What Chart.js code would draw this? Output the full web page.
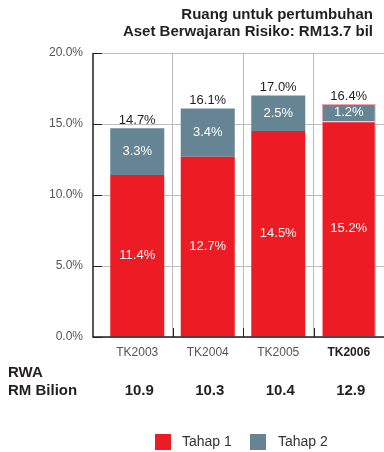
<!DOCTYPE html>
<html lang="ms">
<head>
<meta charset="UTF-8">
<title>Ruang untuk pertumbuhan</title>
<script src="https://cdn.jsdelivr.net/npm/chart.js"></script>
<style>
  body { margin: 0; background: #fff; }
  #wrap { width: 384px; height: 452px; }
</style>
</head>
<body>
<div id="wrap"><canvas id="modal"></canvas></div>
<script>
const categories = ['TK2003', 'TK2004', 'TK2005', 'TK2006'];
const tahap1 = [11.4, 12.7, 14.5, 15.2];
const tahap2 = [3.3, 3.4, 2.5, 1.2];
const rwa = ['10.9', '10.3', '10.4', '12.9'];
const yTicks = [0, 5, 10, 15, 20];
const titleLines = ['Ruang untuk pertumbuhan', 'Aset Berwajaran Risiko: RM13.7 bil'];

const RED = '#ed1c24';
const SLATE = '#668594';
const INK = '#231f20';
const FONT = "'Liberation Sans', Arial, sans-serif";
const LAST = categories.length - 1;

Chart.defaults.font.family = FONT;

// extra drawing: frame, labels, RWA row, title and legend
const extras = {
  id: 'extras',
  afterDatasetsDraw(chart) {
    const { ctx, chartArea: a, scales: { x } } = chart;
    ctx.save();

    // frame: left axis sits a tick-length away from the plot
    ctx.strokeStyle = INK;
    ctx.lineWidth = 1.5;
    ctx.beginPath();
    ctx.moveTo(a.left - 9, a.top);
    ctx.lineTo(a.left - 9, a.bottom);
    ctx.lineTo(a.right, a.bottom);
    ctx.stroke();

    // short dark stubs at the foot of each category divider
    ctx.lineWidth = 1;
    ctx.beginPath();
    for (let i = 1; i < categories.length; i++) {
      const px = Math.round((x.getPixelForValue(i - 1) + x.getPixelForValue(i)) / 2) + 0.5;
      ctx.moveTo(px, a.bottom - 9);
      ctx.lineTo(px, a.bottom);
    }
    ctx.stroke();

    // values inside the segments
    ctx.textAlign = 'center';
    ctx.textBaseline = 'middle';
    ctx.font = '13px ' + FONT;
    ctx.fillStyle = '#fff';
    chart.data.datasets.forEach((ds, d) => {
      chart.getDatasetMeta(d).data.forEach((bar, i) => {
        ctx.fillText(ds.data[i].toFixed(1) + '%', bar.x, (bar.y + bar.base) / 2);
      });
    });

    // totals above the bars
    ctx.fillStyle = INK;
    chart.getDatasetMeta(1).data.forEach((bar, i) => {
      const total = tahap1[i] + tahap2[i];
      ctx.fillText(total.toFixed(1) + '%', bar.x, bar.y - 8);
    });

    // RWA row
    ctx.font = 'bold 15px ' + FONT;
    ctx.textAlign = 'left';
    ctx.fillText('RWA', 8, 373);
    ctx.fillText('RM Bilion', 8, 391);
    ctx.textAlign = 'center';
    rwa.forEach((v, i) => ctx.fillText(v, x.getPixelForValue(i) + 2, 391));

    // title
    ctx.textAlign = 'right';
    titleLines.forEach((t, i) => ctx.fillText(t, 373, 15 + i * 17));

    // legend
    ctx.font = '14px ' + FONT;
    ctx.textAlign = 'left';
    const items = [[155, 182], [250, 278]];
    chart.data.datasets.forEach((ds, d) => {
      const [bx, tx] = items[d];
      ctx.fillStyle = ds.backgroundColor;
      ctx.fillRect(bx, 434, 16, 16);
      ctx.fillStyle = '#333';
      ctx.fillText(ds.label, tx, 442);
    });

    ctx.restore();
  }
};

// only the latest year gets a thin pink outline
const edgeColor = ctx => (ctx.dataIndex === LAST ? '#f3a3a7' : 'transparent');
const edgeWidth = ctx => (ctx.dataIndex === LAST ? 1 : 0);

new Chart(document.getElementById('modal'), {
  type: 'bar',
  data: {
    labels: categories,
    datasets: [
      { label: 'Tahap 1', data: tahap1, backgroundColor: RED, borderColor: edgeColor, borderWidth: edgeWidth },
      { label: 'Tahap 2', data: tahap2, backgroundColor: SLATE, borderColor: edgeColor, borderWidth: edgeWidth }
    ]
  },
  options: {
    responsive: true,
    maintainAspectRatio: false,
    animation: false,
    layout: { padding: { top: 53, left: 0, right: 0, bottom: 0 } },
    datasets: { bar: { categoryPercentage: 1, barPercentage: 0.766 } },
    plugins: { legend: { display: false }, tooltip: { enabled: false } },
    scales: {
      x: {
        stacked: true,
        afterFit: s => { s.height = 115; },
        border: { display: false },
        grid: {
          offset: true,
          drawTicks: false,
          color: c => (c.index === 0 || c.index === categories.length ? 'transparent' : '#bdbdbd')
        },
        ticks: {
          padding: 8,
          color: c => (c.index === LAST ? INK : '#555'),
          font: c => ({ size: 12, weight: c.index === LAST ? 'bold' : 'normal' })
        }
      },
      y: {
        stacked: true,
        min: 0,
        max: 20,
        afterFit: s => { s.width = 102; },
        afterBuildTicks: s => { s.ticks = yTicks.map(v => ({ value: v })); },
        border: { display: false },
        grid: { color: '#bdbdbd', tickLength: 9, tickColor: INK },
        ticks: {
          padding: 10,
          color: '#555',
          font: { size: 12 },
          callback: v => v.toFixed(1) + '%'
        }
      }
    }
  },
  plugins: [extras]
});
</script>
</body>
</html>
